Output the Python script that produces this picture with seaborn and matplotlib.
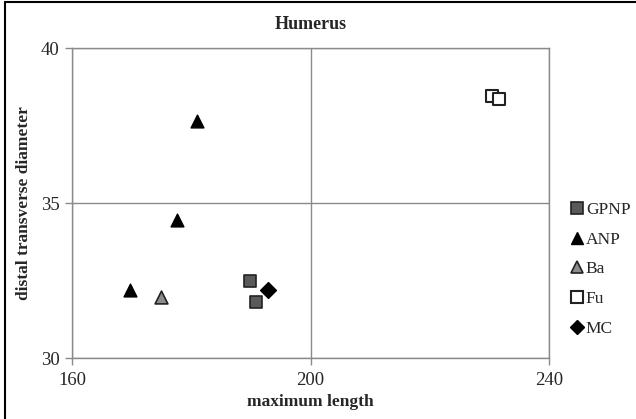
import matplotlib
matplotlib.use("Agg")
import matplotlib.pyplot as plt
import seaborn as sns
import pandas as pd
from matplotlib.lines import Line2D

# Humerus measurements per group
groups = ["GPNP", "GPNP", "ANP", "ANP", "ANP", "Ba", "Fu", "Fu", "MC"]
max_length = [189.9, 190.9, 169.7, 177.6, 181.0, 174.9, 230.5, 231.6, 192.9]
distal_diam = [32.5, 31.8, 32.2, 34.45, 37.65, 31.97, 38.45, 38.35, 32.2]

group_order = ["GPNP", "ANP", "Ba", "Fu", "MC"]
x_ticks = [160, 200, 240]
y_ticks = [30, 35, 40]

df = pd.DataFrame({"group": groups, "x": max_length, "y": distal_diam})

sns.set_style("white")
plt.rcParams["font.family"] = ["Liberation Serif", "DejaVu Serif"]

fig = plt.figure(figsize=(6.36, 4.19), dpi=100)
ax = fig.add_axes([72 / 636, 1 - 358 / 419, 477 / 636, 310 / 419])

styles = {
    "GPNP": dict(marker="s", facecolor="#5a5a5a", edgecolor="#222222", s=85, lw=1.2),
    "ANP": dict(marker="^", facecolor="black", edgecolor="black", s=85, lw=1.0),
    "Ba": dict(marker="^", facecolor="#8c8c8c", edgecolor="#222222", s=85, lw=1.2),
    "Fu": dict(marker="s", facecolor="white", edgecolor="#222222", s=85, lw=1.5),
    "MC": dict(marker="D", facecolor="black", edgecolor="black", s=65, lw=1.0),
}

for g in group_order:
    st = styles[g]
    sns.scatterplot(data=df[df.group == g], x="x", y="y", ax=ax,
                    marker=st["marker"], color=st["facecolor"],
                    edgecolor=st["edgecolor"], s=st["s"], linewidth=st["lw"],
                    zorder=3, legend=False)

ax.set_xlim(160, 240)
ax.set_ylim(30, 40)
ax.set_xticks(x_ticks)
ax.set_yticks(y_ticks)
ax.grid(True, color="#8a8a8a", linewidth=1.0)
for sp in ax.spines.values():
    sp.set_color("#8a8a8a")
    sp.set_linewidth(1.0)
ax.tick_params(axis="both", direction="out", length=5, width=1.0,
               color="#8a8a8a", labelsize=13.5, bottom=True, left=True)
ax.tick_params(axis="x", pad=5)
ax.tick_params(axis="y", pad=4)

ax.set_xlabel("maximum length", fontsize=12.5, fontweight="bold", labelpad=4)
ax.set_ylabel("distal transverse diameter", fontsize=12.5, fontweight="bold", labelpad=6)
ax.set_title("Humerus", fontsize=13, fontweight="bold", pad=14)

handles = []
for g in group_order:
    st = styles[g]
    handles.append(Line2D([], [], linestyle="none", marker=st["marker"],
                          markerfacecolor=st["facecolor"], markeredgecolor=st["edgecolor"],
                          markersize=9 if st["marker"] != "D" else 7,
                          markeredgewidth=st["lw"], label=g))
fig.legend(handles=handles, loc="upper left", bbox_to_anchor=(565 / 636, 1 - 195 / 419),
           frameon=False, fontsize=12.5, handlelength=0.6, handletextpad=0.2,
           labelspacing=0.78, borderaxespad=0)

# border along the left and top edges
fig.add_artist(Line2D([5 / 636, 5 / 636], [0, 1 - 2 / 419], color="black", lw=1.5,
                      transform=fig.transFigure))
fig.add_artist(Line2D([5 / 636, 1], [1 - 2 / 419, 1 - 2 / 419], color="black", lw=1.5,
                      transform=fig.transFigure))

fig.savefig("out.png", dpi=100)
